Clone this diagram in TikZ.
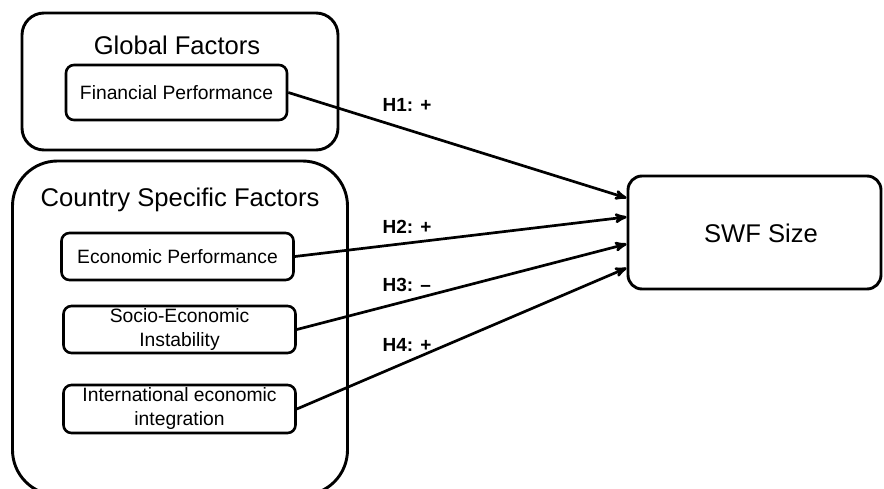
\documentclass[tikz,border=0pt]{standalone}
\usepackage{fontspec}
\setmainfont{Liberation Sans}
\usepackage{tikz}
\usetikzlibrary{shapes,arrows,positioning}
\tikzstyle{group} = [draw, line width=2.9pt, rounded corners=22pt, inner sep=0pt]
\tikzstyle{factor} = [draw, line width=2.6pt, rounded corners=8pt, align=center, inner sep=0pt, minimum width=232pt, font=\fontsize{19.3}{24}\selectfont]
\tikzstyle{title} = [font=\fontsize{25.6}{30}\selectfont]
\tikzstyle{hyp} = [anchor=west, font=\fontsize{19}{22}\selectfont\bfseries]

\begin{document}
\begin{tikzpicture}[x=1pt,y=-1pt,->,>=stealth',line width=2.7pt]
\useasboundingbox (0,0) rectangle (884,488);

\node[group, minimum width=316pt, minimum height=137pt] (global) at (180,81.5) {};
\node[title] (globaltitle) at (177,45) {Global Factors};
\node[factor, minimum width=221pt, minimum height=55pt] (fin) at (176.5,92.5) {Financial Performance};

\node[group, rounded corners=45pt, minimum width=335pt, minimum height=334pt] (country) at (180,328) {};
\node[title] (countrytitle) at (180,200) {Country Specific Factors};
\node[factor, minimum height=47pt] (econ) at (177.5,256.5) {Economic Performance};
\node[factor, minimum height=47pt] (socio) at (179.5,329.5) {Socio-Economic\\Instability};
\node[factor, minimum height=48pt] (intl) at (179.5,409) {International economic\\integration};

\node[group, rounded corners=14pt, minimum width=253pt, minimum height=113pt] (swf) at (754.5,232.5) {};
\node[title] (swftitle) at (761,233) {SWF Size};

\node[hyp] (h1) at (378,105) {H1: +};
\node[hyp] (h2) at (378,227) {H2: +};
\node[hyp] (h3) at (378,285) {H3: –};
\node[hyp] (h4) at (378,345) {H4: +};

\path
(fin.east) edge ([yshift=34.5pt]swf.west)
(econ.east) edge ([yshift=15.5pt]swf.west)
(socio.east) edge ([yshift=-11.5pt]swf.west)
(intl.east) edge ([yshift=-35.5pt]swf.west);
\end{tikzpicture}
\end{document}
